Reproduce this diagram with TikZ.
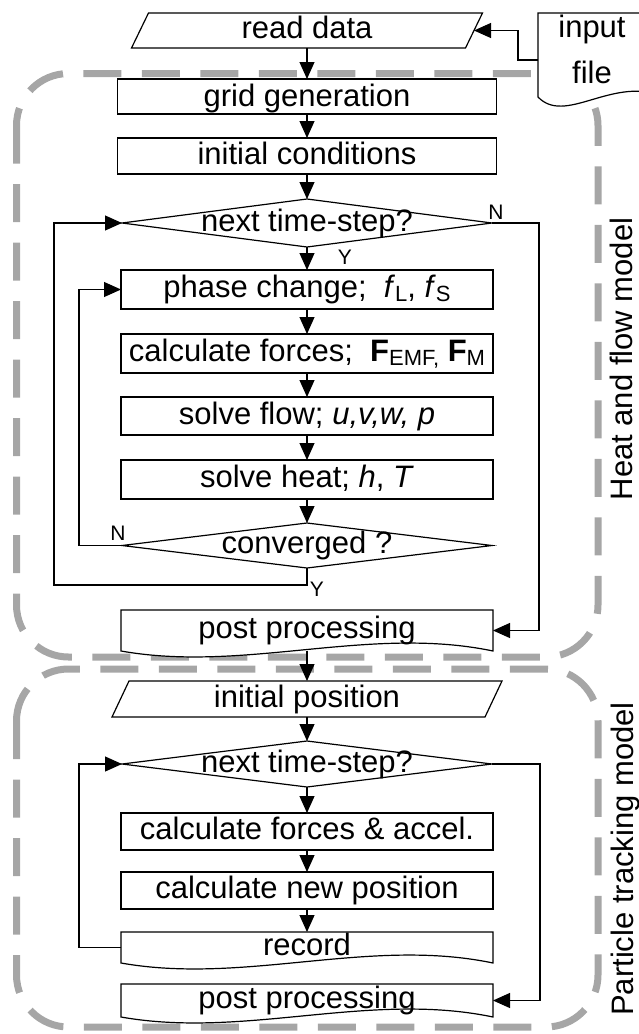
\documentclass[tikz,border=0pt]{standalone}
\usepackage{fontspec}
\setmainfont{Liberation Sans}
\usetikzlibrary{arrows.meta,shapes.geometric}
\definecolor{dashgray}{HTML}{A6A6A6}
% parallelogram: cx, cy, w, h (y grows downwards)
\newcommand\drawpara[4]{\draw[outl] ({#1-#3/2+8.5},{#2-#4/2}) -- ({#1+#3/2+8.5},{#2-#4/2}) -- ({#1+#3/2-8.5},{#2+#4/2}) -- ({#1-#3/2-8.5},{#2+#4/2}) -- cycle;}
% document shape with wavy bottom: cx, cy, w, h
\newcommand\drawdoc[4]{\draw[outl] ({#1-#3/2},{#2+#4/2}) -- ({#1-#3/2},{#2-#4/2}) -- ({#1+#3/2},{#2-#4/2}) -- ({#1+#3/2},{#2+#4/2}) .. controls ({#1+#3/6},{#2+#4/2-26}) and ({#1-#3/6},{#2+#4/2+22}) .. ({#1-#3/2},{#2+#4/2}) -- cycle;}
\newcommand\sbs[1]{\raisebox{-4pt}{\fontsize{22}{22}\selectfont #1}}
\begin{document}
\begin{tikzpicture}[x=1pt,y=-1pt,
  every node/.style={font=\fontsize{31}{37}\selectfont, inner sep=0pt, outer sep=0pt},
  every label/.style={text height=22pt, text depth=6pt},
  outl/.style={draw=black, line width=1.2pt, fill=white},
  proc/.style={outl, rectangle, minimum width=372pt, text height=22pt, text depth=6pt},
  plain/.style={rectangle, text height=22pt, text depth=6pt},
  dec/.style={outl, diamond, minimum width=370pt},
  arr/.style={line width=1.1pt, -{Triangle[length=17pt,width=15pt]}},
  yn/.style={font=\fontsize{21}{25}\selectfont},
  grp/.style={draw=dashgray, line width=7pt, dash pattern=on 38pt off 20.5pt, rounded corners=52pt},
  side/.style={rotate=90, anchor=base}
]
\useasboundingbox (0,0) rectangle (639,1034);
\clip (0,0) rectangle (639,1034);

% group frames
\draw[grp] (16.5,73.5) rectangle (598,657);
\draw[grp] (16.5,669) rectangle (598,1027);

% input file
\draw[outl] (538,97) -- (538,13) -- (660,13) -- (660,95) .. controls (610,78) and (565,125) .. (538,97) -- cycle;
\node[anchor=west, text width=68pt, align=center, inner xsep=20pt, font=\fontsize{31}{46}\selectfont] (inp) at (538,49) {input\\file};

% heat and flow model
\drawpara{307}{30.5}{334}{35}
\node[plain, minimum width=334pt, minimum height=35pt] (rd) at (307,30.5) {read data};
\node[proc, minimum width=379pt, minimum height=35pt, text height=24pt, text depth=4pt] (gg) at (307,96.5) {grid generation};
\node[proc, minimum width=379pt, minimum height=36pt] (ic) at (307,156) {initial conditions};
\node[dec, minimum height=48pt, label=center:{next time-step?}] (d1) at (307,223) {};
\node[proc, minimum height=39pt] (pc) at (307,289.5) {phase change;\ \ \textit{f}\sbs{L}, \textit{f}\sbs{S}};
\node[proc, minimum height=39pt] (cf) at (307,353.5) {calculate forces;\ \ \textbf{F}\sbs{EMF,} \textbf{F}\sbs{M}};
\node[proc, minimum height=38pt] (sf) at (307,416) {solve flow; \textit{u,v,w, p}};
\node[proc, minimum height=39pt] (sh) at (307,479.5) {solve heat; \textit{h}, \textit{T}};
\node[dec, minimum height=45pt, label=center:{converged ?}] (cv) at (307,545.5) {};
\drawdoc{307}{630.5}{372}{41}
\node[plain, minimum width=372pt, minimum height=41pt] (pp1) at (307,630.5) {post processing};

% particle tracking model
\drawpara{307}{699}{373}{36}
\node[plain, minimum width=373pt, minimum height=36pt] (ip) at (307,699) {initial position};
\node[dec, minimum height=46pt, label=center:{next time-step?}] (d3) at (307,764) {};
\node[proc, minimum height=37pt] (ca) at (307,831.5) {calculate forces \& accel.};
\node[proc, minimum height=37pt] (np) at (307,890.5) {calculate new position};
\drawdoc{307}{947.5}{372}{31}
\node[plain, minimum width=372pt, minimum height=31pt] (rec) at (307,947.5) {record};
\drawdoc{307}{1000.5}{372}{33}
\node[plain, minimum width=372pt, minimum height=33pt] (pp2) at (307,1000.5) {post processing};

% side titles
\node[side] (hfm) at (632,359) {Heat and flow model};
\node[side] (ptm) at (633,859) {Particle tracking model};

% connectors
\draw[arr] ([yshift=-11pt]inp.west) -- ++(-20,0) |- (rd.east);
\draw[arr] (rd.south) -- (gg.north);
\draw[arr] (gg.south) -- (ic.north);
\draw[arr] (ic.south) -- (d1.north);
\draw[arr] (d1.south) -- (pc.north);
\draw[arr] (pc.south) -- (cf.north);
\draw[arr] (cf.south) -- (sf.north);
\draw[arr] (sf.south) -- (sh.north);
\draw[arr] (sh.south) -- (cv.north);
\draw[arr] (cv.west) -- ++(-43,0) |- (pc.west);
\draw[arr] (cv.south) -- ++(0,17) -| ([xshift=-68pt]d1.west) -- (d1.west);
\draw[arr] (d1.east) -- ++(47,0) |- (pp1.east);
\draw[arr] (pp1.south) -- (ip.north);
\draw[arr] (ip.south) -- (d3.north);
\draw[arr] (d3.south) -- (ca.north);
\draw[arr] (ca.south) -- (np.north);
\draw[arr] (np.south) -- (rec.north);
\draw[arr] (rec.west) -- ++(-42,0) |- (d3.west);
\draw[arr] (d3.east) -- ++(48,0) |- (pp2.east);

% branch labels
\node[yn] (n1) at (496,212) {N};
\node[yn] (y1) at (345,257) {Y};
\node[yn] (n2) at (118,533) {N};
\node[yn] (y2) at (317,589) {Y};
\end{tikzpicture}
\end{document}
